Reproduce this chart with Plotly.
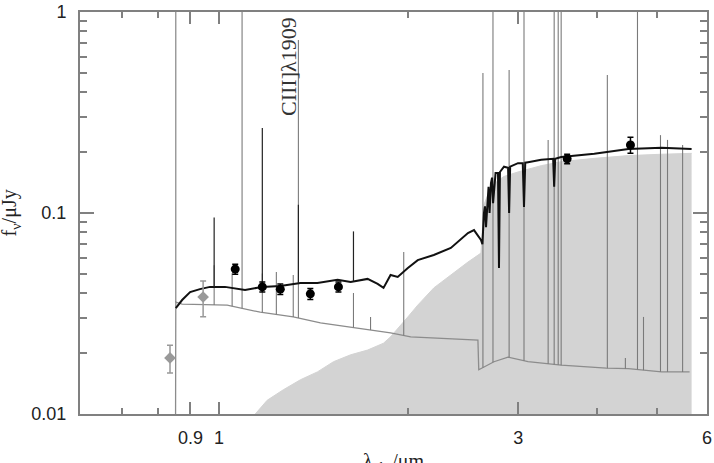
import numpy as np
import plotly.graph_objects as go

# ---------------- data ----------------
# total model spectrum (black), wavelength in micron, flux in microJy
tot_wl = [0.853, 0.873, 0.899, 0.932, 0.967, 1.022, 1.100, 1.172, 1.252, 1.348,
          1.435, 1.545, 1.621, 1.725, 1.790, 1.829, 1.877, 1.927, 2.000, 2.074,
          2.200, 2.342, 2.494, 2.550, 2.616, 2.630, 2.645, 2.655, 2.665, 2.690,
          2.700, 2.714, 2.725, 2.735, 2.760, 2.785, 2.795, 2.805, 2.847, 2.890,
          2.901, 2.912, 2.997, 3.050, 3.064, 3.078, 3.110, 3.264, 3.410, 3.423,
          3.436, 3.512, 3.966, 4.161, 4.496, 5.077, 5.670]
tot_f = [0.0336, 0.0369, 0.0404, 0.0418, 0.0429, 0.0429, 0.0414, 0.0429, 0.0433, 0.0449,
         0.0449, 0.0465, 0.0454, 0.0470, 0.0444, 0.0424, 0.0492, 0.0481, 0.0532, 0.0583,
         0.0618, 0.0670, 0.0795, 0.0822, 0.0734, 0.0700, 0.1000, 0.1080, 0.0850, 0.1350,
         0.1000, 0.1410, 0.1500, 0.1120, 0.1580, 0.1580, 0.0532, 0.1600, 0.1700, 0.1680,
         0.1000, 0.1700, 0.1770, 0.1770, 0.1070, 0.1780, 0.1790, 0.1840, 0.1860, 0.1350,
         0.1860, 0.1900, 0.1970, 0.2010, 0.2080, 0.2110, 0.2080]

# young / nebular component (grey line)
neb_wl = [0.851, 0.853, 0.873, 0.993, 1.030, 1.163, 1.313, 1.451, 1.621, 1.877,
          2.021, 2.522, 2.587, 2.595, 2.744, 2.889, 3.110, 3.512, 4.146, 4.496,
          5.077, 5.628]
neb_f = [0.001, 0.0360, 0.0352, 0.0348, 0.0348, 0.0321, 0.0304, 0.0284, 0.0271, 0.0253,
         0.0242, 0.0233, 0.0233, 0.0166, 0.0182, 0.0192, 0.0182, 0.0175, 0.0169, 0.0168,
         0.0162, 0.0162]

# old stellar population (light grey filled)
old_wl = [1.142, 1.193, 1.266, 1.348, 1.435, 1.522, 1.621, 1.725, 1.829, 1.877,
          2.000, 2.074, 2.200, 2.342, 2.494, 2.616, 2.645, 2.714, 2.785, 2.847,
          2.997, 3.264, 3.512, 3.966, 4.496, 5.077, 5.670]
old_f = [0.0100, 0.0117, 0.0132, 0.0148, 0.0162, 0.0182, 0.0197, 0.0208, 0.0225, 0.0242,
         0.0304, 0.0348, 0.0424, 0.0492, 0.0570, 0.0632, 0.1100, 0.1350, 0.1450, 0.1520,
         0.1600, 0.1720, 0.1800, 0.1870, 0.1930, 0.1960, 0.1980]

# nebular emission lines (grey spikes): wavelength and peak flux
neb_line_wl = [0.853, 0.982, 1.049, 1.088, 1.172, 1.234, 1.313, 1.338, 1.638, 1.744,
               1.970, 2.635, 2.734, 2.901, 3.064, 3.348, 3.423, 3.474, 3.512, 4.161,
               4.446, 4.648, 4.752, 5.058, 5.190, 5.486]
neb_line_pk = [3.0, 0.055, 0.0502, 3.0, 0.050, 0.0508, 0.0492, 0.726, 0.040, 0.0304,
               0.064, 0.497, 3.0, 0.514, 3.0, 0.231, 3.0, 3.0, 3.0, 0.486,
               0.019, 3.0, 0.0304, 0.244, 0.231, 0.218]

# emission lines in the total spectrum (black spikes)
tot_line_wl = [0.982, 1.172, 1.338, 1.638]
tot_line_pk = [0.095, 0.265, 0.110, 0.081]

# photometry
phot_blk_wl = [1.061, 1.172, 1.252, 1.398, 1.550, 3.59, 4.53]
phot_blk_f = [0.0526, 0.0429, 0.0418, 0.0396, 0.0429, 0.186, 0.218]
phot_blk_err = [0.003, 0.0025, 0.0025, 0.0025, 0.0025, 0.010, 0.020]
phot_gry_wl = [0.835, 0.943]
phot_gry_f = [0.0190, 0.0382]
phot_gry_err = [0.003, 0.0077]

x_tickvals = [0.9, 1, 3, 6]
x_ticktext = ["0.9", "1", "3", "6"]
x_minor = [0.7, 0.8, 2, 4, 5]
y_tickvals = [0.01, 0.1, 1]
y_ticktext = ["0.01", "0.1", "1"]
y_minor = [0.02, 0.03, 0.04, 0.05, 0.06, 0.07, 0.08, 0.09,
           0.2, 0.3, 0.4, 0.5, 0.6, 0.7, 0.8, 0.9]

# ---------------- helpers ----------------
def spikes(wl, pk, cont_wl, cont_f):
    base = 10 ** np.interp(np.log10(wl), np.log10(cont_wl), np.log10(cont_f))
    xs, ys = [], []
    for w, b, p in zip(wl, base, pk):
        xs += [w, w, None]
        ys += [b, p, None]
    return xs, ys

fig = go.Figure()

fig.add_trace(go.Scatter(x=old_wl, y=old_f, mode="lines", fill="tozeroy",
                         line=dict(color="#d3d3d3", width=1), fillcolor="#d3d3d3",
                         hoverinfo="skip", showlegend=False))

fig.add_trace(go.Scatter(x=neb_wl, y=neb_f, mode="lines",
                         line=dict(color="#8c8c8c", width=1.3), showlegend=False))

nx, ny = spikes(neb_line_wl, neb_line_pk, neb_wl[1:], neb_f[1:])
fig.add_trace(go.Scatter(x=nx, y=ny, mode="lines", connectgaps=False,
                         line=dict(color="#7a7a7a", width=1.1), showlegend=False))

fig.add_trace(go.Scatter(x=tot_wl, y=tot_f, mode="lines",
                         line=dict(color="#111111", width=2), showlegend=False))

tx, ty = spikes(tot_line_wl, tot_line_pk, tot_wl, tot_f)
fig.add_trace(go.Scatter(x=tx, y=ty, mode="lines", connectgaps=False,
                         line=dict(color="#222222", width=1.2), showlegend=False))

fig.add_trace(go.Scatter(x=phot_gry_wl, y=phot_gry_f, mode="markers",
                         marker=dict(symbol="diamond", size=9, color="#999999"),
                         error_y=dict(type="data", array=phot_gry_err, color="#999999",
                                      thickness=1.5, width=3),
                         showlegend=False))
fig.add_trace(go.Scatter(x=phot_blk_wl, y=phot_blk_f, mode="markers",
                         marker=dict(symbol="circle", size=9, color="#000000"),
                         error_y=dict(type="data", array=phot_blk_err, color="#000000",
                                      thickness=1.5, width=3),
                         showlegend=False))

axis_common = dict(showline=True, linecolor="#808080", linewidth=2, mirror="ticks",
                   ticks="inside", tickcolor="#808080", tickwidth=1.5,
                   showgrid=False, zeroline=False, automargin=False,
                   tickfont=dict(family="Liberation Sans", size=18, color="#222"))

fig.update_xaxes(type="log", range=[np.log10(0.6), np.log10(6)],
                 tickmode="array", tickvals=x_tickvals, ticktext=x_ticktext,
                 ticklen=12, ticklabelstandoff=6,
                 minor=dict(tickmode="array", tickvals=x_minor, ticks="inside",
                            ticklen=6, tickcolor="#808080", tickwidth=1.5),
                 **axis_common)
fig.update_yaxes(type="log", range=[-2, 0],
                 tickmode="array", tickvals=y_tickvals, ticktext=y_ticktext,
                 ticklen=14, ticklabelstandoff=8,
                 minor=dict(tickmode="array", tickvals=y_minor, ticks="inside",
                            ticklen=7, tickcolor="#808080", tickwidth=1.5),
                 **axis_common)

fig.add_annotation(text="λ<sub>obs</sub>/μm", xref="paper", yref="paper",
                   x=0.5, y=-0.085, xanchor="center", yanchor="top", showarrow=False,
                   font=dict(family="Liberation Serif", size=20, color="#222"))
fig.add_annotation(text="f<sub>ν</sub>/μJy", xref="paper", yref="paper",
                   x=-0.111, y=0.5, xanchor="center", yanchor="middle", showarrow=False,
                   textangle=-90,
                   font=dict(family="Liberation Serif", size=20, color="#222"))
fig.add_annotation(text="CIII]λ1909", xref="paper", yref="paper",
                   x=(288 - 80) / 627, y=(414 - 67) / 402, xanchor="center", yanchor="middle",
                   showarrow=False, textangle=-90,
                   font=dict(family="Liberation Serif", size=22, color="#333"))

fig.update_layout(width=714, height=463, margin=dict(l=80, r=7, t=12, b=49),
                  plot_bgcolor="white", paper_bgcolor="white")

fig.write_html("out.html")
